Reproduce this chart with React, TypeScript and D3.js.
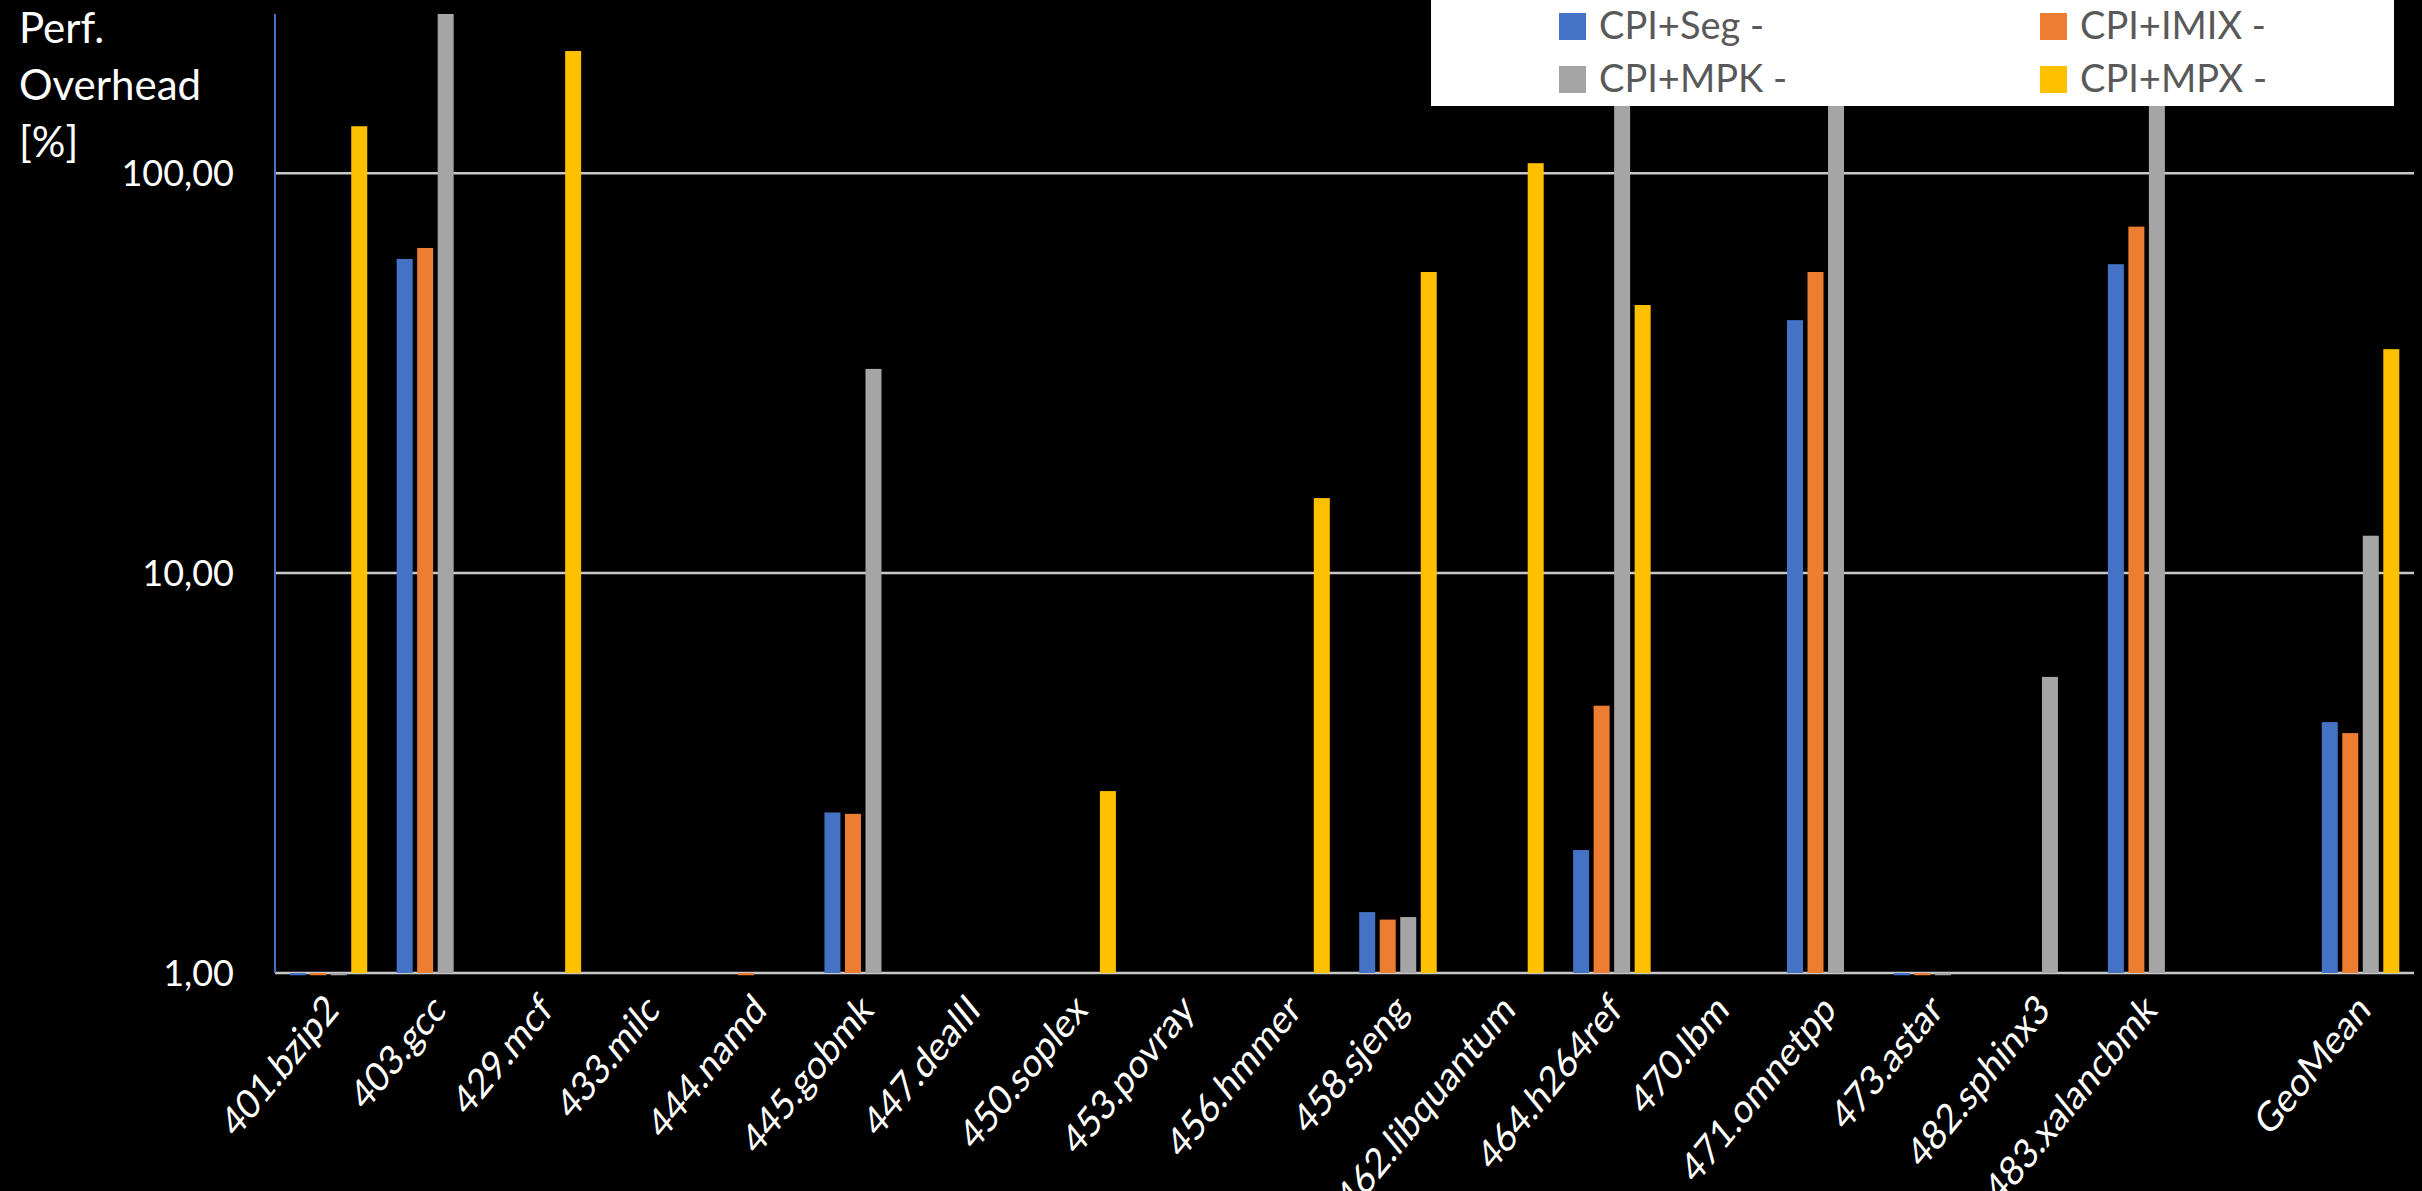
import * as d3 from 'd3'

const categories = [
  '401.bzip2', '403.gcc', '429.mcf', '433.milc', '444.namd', '445.gobmk', '447.dealII',
  '450.soplex', '453.povray', '456.hmmer', '458.sjeng', '462.libquantum', '464.h264ref',
  '470.lbm', '471.omnetpp', '473.astar', '482.sphinx3', '483.xalancbmk', '', 'GeoMean',
]

const seriesNames = ['CPI+Seg -', 'CPI+IMIX -', 'CPI+MPK -', 'CPI+MPX -']
const seriesColors = ['#4472C4', '#ED7D31', '#A5A5A5', '#FFC000']

const cpiSeg = [0.987, 61, null, null, null, 2.52, null, null, null, null, 1.42, null, 2.03, null, 42.9, 0.987, null, 59.2, null, 4.24]
const cpiImix = [0.987, 65, null, null, 0.987, 2.5, null, null, null, null, 1.36, null, 4.66, null, 56.6, 0.987, null, 73.5, null, 3.98]
const cpiMpk = [0.987, 320, null, null, null, 32.4, null, null, null, null, 1.38, null, 280, null, 300, 0.987, 5.5, 350, null, 12.4]
const cpiMpx = [131, null, 202, null, null, null, null, 2.85, null, 15.4, 56.6, 105.9, 46.8, null, null, null, null, null, null, 36.3]

const tickValues = [1, 10, 100]

const W = 2422
const H = 1191
const left = 275
const right = 2414
const top = 14
const bottom = 973
const font = 'Lato, "Open Sans", sans-serif'

const fmt = d3.formatLocale({decimal: ',', thousands: '.', grouping: [3], currency: ['', '€']}).format('.2f')

export default function App() {
  const series = [cpiSeg, cpiImix, cpiMpk, cpiMpx]
  const x = d3.scaleBand<string>().domain(categories).range([left, right]).padding(0)
  const slot = x.bandwidth()
  const groupW = slot * 0.725
  const xs = d3.scaleBand<number>().domain([0, 1, 2, 3]).range([0, groupW]).paddingInner(0.22).paddingOuter(0)
  const y = d3.scaleLog().domain([1, 250]).range([bottom, top])

  const bars: {k: string; x: number; y0: number; y1: number; c: string}[] = []
  categories.forEach((cat, i) => {
    const gx = (x(cat) ?? 0) + (slot - groupW) / 2
    series.forEach((vals, s) => {
      const v = vals[i]
      if (v == null) return
      const yv = y(v)
      bars.push({k: `${i}-${s}`, x: gx + (xs(s) ?? 0), y0: Math.min(yv, y(1)), y1: Math.max(yv, y(1)), c: seriesColors[s]})
    })
  })

  return (
    <svg width={W} height={H} style={{position: 'absolute', left: 0, top: 0, display: 'block'}} fontFamily={font}>
      <defs>
        <clipPath id="plot">
          <rect x={left} y={top} width={right - left} height={H - top} />
        </clipPath>
      </defs>
      <rect width={W} height={H} fill="#000" />

      {tickValues.map(t => (
        <line key={t} x1={left} x2={right} y1={y(t)} y2={y(t)} stroke="#c9c9c9" strokeWidth={2.5} />
      ))}
      {tickValues.map(t => (
        <text key={'l' + t} x={234} y={y(t)} dy="0.36em" textAnchor="end" fill="#fff" fontSize={36}>
          {fmt(t)}
        </text>
      ))}

      <g clipPath="url(#plot)">
        {bars.map(b => (
          <rect key={b.k} x={b.x} y={b.y0} width={xs.bandwidth()} height={b.y1 - b.y0} fill={b.c} />
        ))}
      </g>

      <line x1={left} x2={left} y1={top} y2={bottom} stroke="#4472C4" strokeWidth={2} />

      {/* category labels: slanted like the stretched original */}
      {categories.map(cat => {
        const cx = (x(cat) ?? 0) + slot / 2
        return (
          <text key={'x' + cat} transform={`translate(${cx + 12},1012) scale(1,1.22) rotate(-45)`} textAnchor="end" fill="#fff" fontSize={34}>
            {cat}
          </text>
        )
      })}

      <text fill="#fff" fontSize={42}>
        <tspan x={19} y={43}>Perf.</tspan>
        <tspan x={19} y={100}>Overhead</tspan>
        <tspan x={19} y={157}>[%]</tspan>
      </text>

      <rect x={1431} y={0} width={963} height={106} fill="#fff" />
      {seriesNames.map((name, i) => {
        const lx = i % 2 === 0 ? 1559 : 2040
        const ly = i < 2 ? 13 : 66
        return (
          <g key={name}>
            <rect x={lx} y={ly} width={27} height={27} fill={seriesColors[i]} />
            <text x={lx + 40} y={ly + 26} fill="#595959" fontSize={38}>
              {name}
            </text>
          </g>
        )
      })}
    </svg>
  )
}
